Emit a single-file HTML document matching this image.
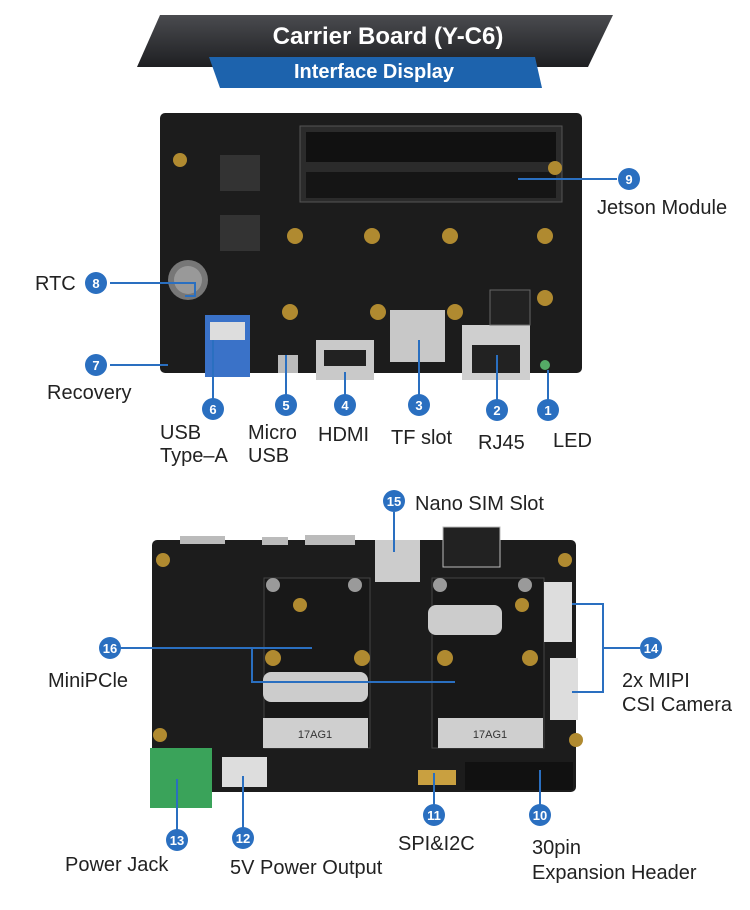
<!DOCTYPE html>
<html><head><meta charset="utf-8"><style>
html,body{margin:0;padding:0;background:#fff}
svg{display:block}
text{font-family:"Liberation Sans",Arial,sans-serif}
.l{font-size:20px;fill:#222}
.n{font-size:13px;fill:#fff;font-weight:bold;text-anchor:middle}
</style></head><body>
<svg width="750" height="910" viewBox="0 0 750 910" xmlns="http://www.w3.org/2000/svg">
<defs><linearGradient id="hd" x1="0" y1="0" x2="0" y2="1"><stop offset="0" stop-color="#4a4b4f"/><stop offset="1" stop-color="#1e1f22"/></linearGradient></defs>
<polygon points="160,15 613,15 588,67 137,67" fill="url(#hd)"/>
<polygon points="209,57 535,57 542,88 220,88" fill="#1d63ad"/>
<text x="388" y="44" font-size="24" font-weight="bold" fill="#fff" text-anchor="middle">Carrier Board (Y-C6)</text>
<text x="374" y="78" font-size="20" font-weight="bold" fill="#fff" text-anchor="middle">Interface Display</text>

<!-- top board -->
<rect x="160" y="113" width="422" height="260" rx="5" fill="#1c1c1c"/>
<rect x="300" y="126" width="262" height="76" fill="#2b2b2b" stroke="#555"/>
<rect x="306" y="132" width="250" height="30" fill="#111"/>
<rect x="306" y="172" width="250" height="26" fill="#151515"/>
<rect x="220" y="155" width="40" height="36" fill="#333"/>
<rect x="220" y="215" width="40" height="36" fill="#333"/>
<circle cx="188" cy="280" r="20" fill="#777"/><circle cx="188" cy="280" r="14" fill="#999"/>
<g fill="#b08a30"><circle cx="180" cy="160" r="7"/><circle cx="555" cy="168" r="7"/><circle cx="295" cy="236" r="8"/><circle cx="372" cy="236" r="8"/><circle cx="450" cy="236" r="8"/><circle cx="545" cy="236" r="8"/><circle cx="290" cy="312" r="8"/><circle cx="378" cy="312" r="8"/><circle cx="455" cy="312" r="8"/><circle cx="545" cy="298" r="8"/></g>
<rect x="205" y="315" width="45" height="62" fill="#3a72c8"/><rect x="210" y="322" width="35" height="18" fill="#ddd"/>
<rect x="278" y="355" width="20" height="18" fill="#bbb"/>
<rect x="316" y="340" width="58" height="40" fill="#c9c9c9"/><rect x="324" y="350" width="42" height="16" fill="#222"/>
<rect x="390" y="310" width="55" height="52" fill="#c8c8c8"/>
<rect x="462" y="325" width="68" height="55" fill="#cfcfcf"/><rect x="472" y="345" width="48" height="28" fill="#222"/>
<rect x="490" y="290" width="40" height="35" fill="#222" stroke="#666"/>
<circle cx="545" cy="365" r="5" fill="#5a6"/>

<!-- bottom board -->
<rect x="152" y="540" width="424" height="252" rx="5" fill="#1c1c1c"/>
<rect x="180" y="536" width="45" height="8" fill="#bbb"/><rect x="262" y="537" width="26" height="8" fill="#bbb"/><rect x="305" y="535" width="50" height="10" fill="#bbb"/>
<rect x="375" y="540" width="45" height="42" fill="#ccc"/>
<rect x="443" y="527" width="57" height="40" fill="#222" stroke="#bbb"/>
<rect x="264" y="578" width="106" height="170" fill="#181818" stroke="#444"/>
<rect x="432" y="578" width="112" height="170" fill="#181818" stroke="#444"/>
<rect x="263" y="718" width="105" height="30" fill="#cfcfcf"/><rect x="438" y="718" width="105" height="30" fill="#cfcfcf"/>
<text x="315" y="738" font-size="11" fill="#333" text-anchor="middle">17AG1</text>
<text x="490" y="738" font-size="11" fill="#333" text-anchor="middle">17AG1</text>
<rect x="263" y="672" width="105" height="30" rx="8" fill="#ccc"/><rect x="428" y="605" width="74" height="30" rx="8" fill="#ccc"/>
<g fill="#9a9a9a"><circle cx="273" cy="585" r="7"/><circle cx="355" cy="585" r="7"/><circle cx="440" cy="585" r="7"/><circle cx="525" cy="585" r="7"/></g>
<g fill="#b08a30"><circle cx="300" cy="605" r="7"/><circle cx="273" cy="658" r="8"/><circle cx="362" cy="658" r="8"/><circle cx="445" cy="658" r="8"/><circle cx="530" cy="658" r="8"/><circle cx="522" cy="605" r="7"/><circle cx="163" cy="560" r="7"/><circle cx="565" cy="560" r="7"/><circle cx="160" cy="735" r="7"/><circle cx="576" cy="740" r="7"/></g>
<rect x="544" y="582" width="28" height="60" fill="#ddd"/><rect x="550" y="658" width="28" height="62" fill="#ddd"/>
<rect x="150" y="748" width="62" height="60" fill="#3aa35a"/>
<rect x="222" y="757" width="45" height="30" fill="#ddd"/>
<rect x="418" y="770" width="38" height="15" fill="#c9a040"/>
<rect x="465" y="762" width="108" height="28" fill="#111"/>

<!-- connectors -->
<g stroke="#2a6fc0" stroke-width="2" fill="none">
<line x1="518" y1="179" x2="617" y2="179"/>
<polyline points="110,283 195,283 195,296 185,296"/>
<line x1="110" y1="365" x2="168" y2="365"/>
<line x1="213" y1="400" x2="213" y2="340"/>
<line x1="286" y1="396" x2="286" y2="355"/>
<line x1="345" y1="396" x2="345" y2="372"/>
<line x1="419" y1="396" x2="419" y2="340"/>
<line x1="497" y1="400" x2="497" y2="355"/>
<line x1="548" y1="400" x2="548" y2="370"/>
<line x1="394" y1="512" x2="394" y2="552"/>
<polyline points="120,648 252,648 252,682 455,682"/>
<line x1="252" y1="648" x2="312" y2="648"/>
<polyline points="572,604 603,604 603,692 572,692"/>
<line x1="603" y1="648" x2="640" y2="648"/>
<line x1="177" y1="779" x2="177" y2="832"/>
<line x1="243" y1="776" x2="243" y2="830"/>
<line x1="434" y1="773" x2="434" y2="805"/>
<line x1="540" y1="770" x2="540" y2="805"/>
</g>
<g fill="#2a6fc0">
<circle cx="629" cy="179" r="11"/><circle cx="96" cy="283" r="11"/><circle cx="96" cy="365" r="11"/>
<circle cx="213" cy="409" r="11"/><circle cx="286" cy="405" r="11"/><circle cx="345" cy="405" r="11"/><circle cx="419" cy="405" r="11"/><circle cx="497" cy="410" r="11"/><circle cx="548" cy="410" r="11"/>
<circle cx="394" cy="501" r="11"/><circle cx="110" cy="648" r="11"/><circle cx="651" cy="648" r="11"/>
<circle cx="177" cy="840" r="11"/><circle cx="243" cy="838" r="11"/><circle cx="434" cy="815" r="11"/><circle cx="540" cy="815" r="11"/>
</g>
<g class="n">
<text x="629" y="184">9</text><text x="96" y="288">8</text><text x="96" y="370">7</text>
<text x="213" y="414">6</text><text x="286" y="410">5</text><text x="345" y="410">4</text><text x="419" y="410">3</text><text x="497" y="415">2</text><text x="548" y="415">1</text>
<text x="394" y="506">15</text><text x="110" y="653">16</text><text x="651" y="653">14</text>
<text x="177" y="845">13</text><text x="243" y="843">12</text><text x="434" y="820">11</text><text x="540" y="820">10</text>
</g>
<g class="l">
<text x="597" y="214">Jetson Module</text>
<text x="35" y="290">RTC</text>
<text x="47" y="399">Recovery</text>
<text x="160" y="439">USB</text><text x="160" y="462">Type–A</text>
<text x="248" y="439">Micro</text><text x="248" y="462">USB</text>
<text x="318" y="441">HDMI</text>
<text x="391" y="444">TF slot</text>
<text x="478" y="449">RJ45</text>
<text x="553" y="447">LED</text>
<text x="415" y="510">Nano SIM Slot</text>
<text x="48" y="687">MiniPCle</text>
<text x="622" y="687">2x MIPI</text><text x="622" y="711">CSI Camera</text>
<text x="65" y="871">Power Jack</text>
<text x="230" y="874">5V Power Output</text>
<text x="398" y="850">SPI&amp;I2C</text>
<text x="532" y="854">30pin</text><text x="532" y="879">Expansion Header</text>
</g>
</svg>
</body></html>
